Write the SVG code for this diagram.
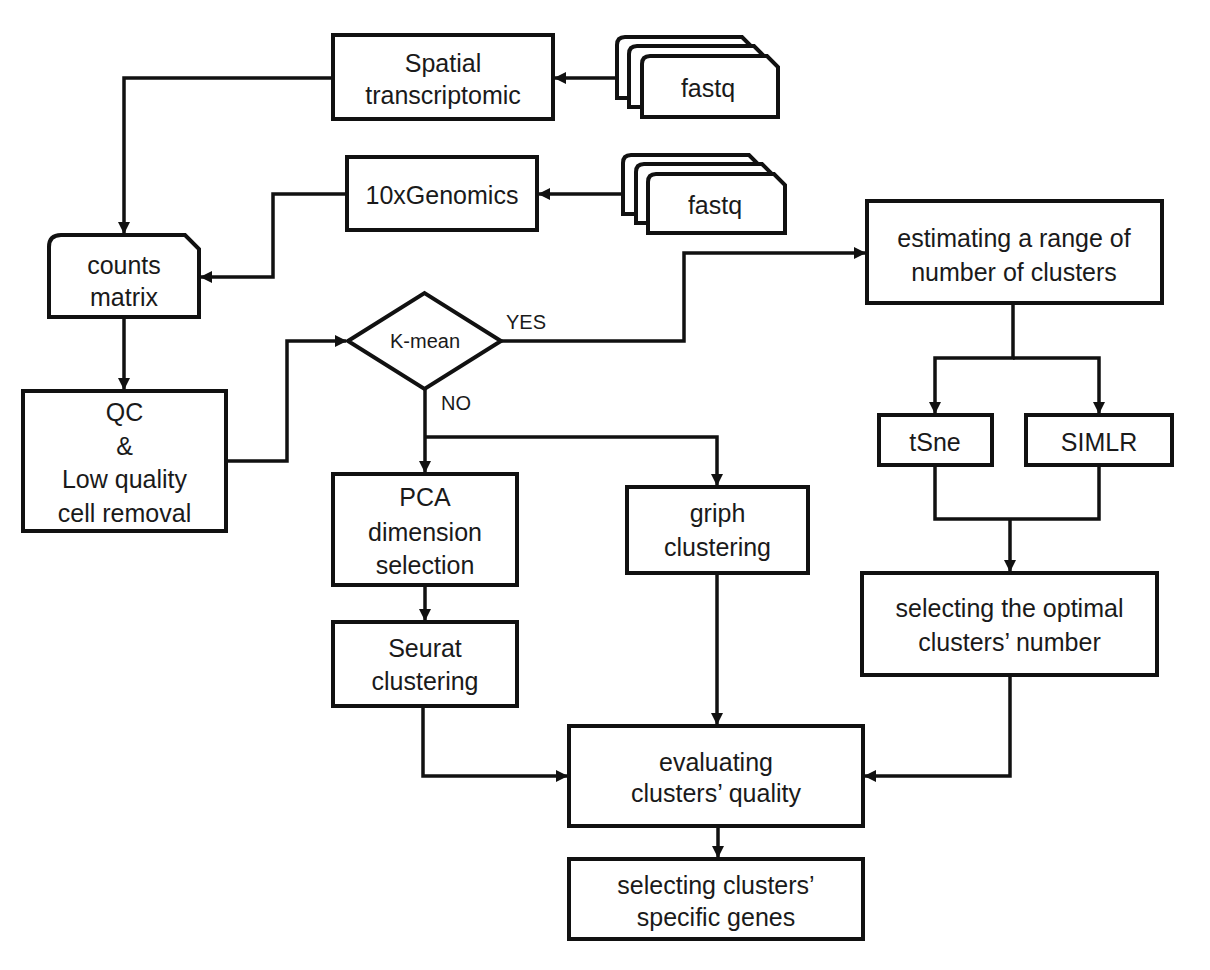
<svg xmlns="http://www.w3.org/2000/svg" width="1210" height="970" viewBox="0 0 1210 970">
<defs>
<style>
.box{fill:#fff;stroke:#111;stroke-width:4}
.card{fill:#fff;stroke:#111;stroke-width:4;stroke-linejoin:miter}
.t{font-family:"Liberation Sans",Arial,sans-serif;font-size:25px;fill:#1a1a1a;text-anchor:middle}
.s{font-family:"Liberation Sans",Arial,sans-serif;font-size:20px;fill:#1a1a1a;text-anchor:middle}
.c{fill:none;stroke:#111;stroke-width:3.5;marker-end:url(#ah)}
.cn{fill:none;stroke:#111;stroke-width:3.5}
</style>
<marker id="ah" markerUnits="userSpaceOnUse" markerWidth="12" markerHeight="12" refX="11" refY="6" orient="auto">
<path d="M0,0 L12,6 L0,12 z" fill="#111"/>
</marker>
</defs>
<rect width="1210" height="970" fill="#fff"/>

<g id="connectors">
<path class="c" d="M617,78 H555"/>
<path class="c" d="M623,194 H539"/>
<path class="c" d="M333,78 H124 V233"/>
<path class="c" d="M347,194 H273 V277 H201"/>
<path class="c" d="M124,317 V389"/>
<path class="c" d="M226,461 H287 V341 H346"/>
<path class="c" d="M501,341 H684 V253 H865"/>
<path class="c" d="M425,389 V472"/>
<path class="c" d="M425,437 H717 V485"/>
<path class="c" d="M425,585 V620"/>
<path class="c" d="M423,706 V776 H567"/>
<path class="c" d="M717,573 V724"/>
<path class="c" d="M1013,303 V358 H935 V413"/>
<path class="c" d="M1013,358 H1099 V413"/>
<path class="cn" d="M935,465 V519 H1099 V465"/>
<path class="c" d="M1010,519 V571"/>
<path class="c" d="M1010,675 V776 H865"/>
<path class="c" d="M718,826 V857"/>
</g>

<g id="spatial">
<rect class="box" x="333" y="35" width="220" height="84"/>
<text class="t" x="443" y="72">Spatial</text>
<text class="t" x="443" y="104">transcriptomic</text>
</g>

<g id="fastq1">
<path class="card" d="M617,98 V45 Q617,37 625,37 H742 L753,48 V98 Z"/>
<path class="card" d="M629,107 V54 Q629,46 637,46 H754 L765,57 V107 Z"/>
<path class="card" d="M642,117 V64 Q642,56 650,56 H767 L778,67 V117 Z"/>
<text class="t" x="708" y="97">fastq</text>
</g>

<g id="tenx">
<rect class="box" x="347" y="157" width="190" height="73"/>
<text class="t" x="442" y="204">10xGenomics</text>
</g>

<g id="fastq2">
<path class="card" d="M623,214 V163 Q623,155 631,155 H749 L760,166 V214 Z"/>
<path class="card" d="M636,223 V172 Q636,164 644,164 H762 L773,175 V223 Z"/>
<path class="card" d="M648,233 V182 Q648,174 656,174 H774 L785,185 V233 Z"/>
<text class="t" x="715" y="214">fastq</text>
</g>

<g id="counts">
<path class="card" d="M49,317 V247 Q49,235 61,235 H185 L199,249 V317 Z"/>
<text class="t" x="124" y="274">counts</text>
<text class="t" x="124" y="306">matrix</text>
</g>

<g id="qc">
<rect class="box" x="23" y="391" width="203" height="140"/>
<text class="t" x="124.5" y="421">QC</text>
<text class="t" x="124.5" y="455">&amp;</text>
<text class="t" x="124.5" y="488">Low quality</text>
<text class="t" x="124.5" y="522">cell removal</text>
</g>

<g id="kmean">
<path class="box" d="M348,341 L424.5,293 L501,341 L424.5,389 Z"/>
<text class="s" x="425" y="348">K-mean</text>
</g>
<g id="labels">
<text class="s" x="526" y="329">YES</text>
<text class="s" x="456" y="410">NO</text>
</g>

<g id="estimating">
<rect class="box" x="867" y="201" width="295" height="102"/>
<text class="t" x="1014" y="247">estimating a range of</text>
<text class="t" x="1014" y="281">number of clusters</text>
</g>

<g id="tsne">
<rect class="box" x="879" y="415" width="113" height="50"/>
<text class="t" x="935" y="451">tSne</text>
</g>

<g id="simlr">
<rect class="box" x="1026" y="415" width="146" height="50"/>
<text class="t" x="1099" y="451">SIMLR</text>
</g>

<g id="optimal">
<rect class="box" x="862" y="573" width="295" height="102"/>
<text class="t" x="1009.5" y="617">selecting the optimal</text>
<text class="t" x="1009.5" y="651">clusters’ number</text>
</g>

<g id="pca">
<rect class="box" x="333" y="474" width="184" height="111"/>
<text class="t" x="425" y="506">PCA</text>
<text class="t" x="425" y="541">dimension</text>
<text class="t" x="425" y="574">selection</text>
</g>

<g id="seurat">
<rect class="box" x="333" y="622" width="184" height="84"/>
<text class="t" x="425" y="657">Seurat</text>
<text class="t" x="425" y="690">clustering</text>
</g>

<g id="griph">
<rect class="box" x="627" y="487" width="181" height="86"/>
<text class="t" x="717.5" y="522">griph</text>
<text class="t" x="717.5" y="556">clustering</text>
</g>

<g id="evaluating">
<rect class="box" x="569" y="726" width="294" height="100"/>
<text class="t" x="716" y="771">evaluating</text>
<text class="t" x="716" y="802">clusters’ quality</text>
</g>

<g id="genes">
<rect class="box" x="569" y="859" width="294" height="80"/>
<text class="t" x="716" y="894">selecting clusters’</text>
<text class="t" x="716" y="926">specific genes</text>
</g>
</svg>
